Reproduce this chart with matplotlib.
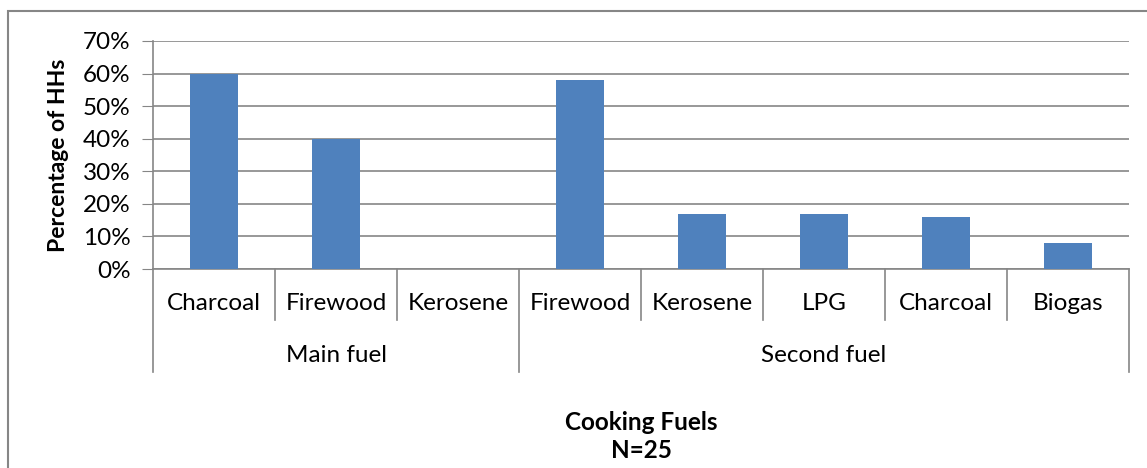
"""
Cooking fuels chart (Excel style, two-level category axis)
"""

import matplotlib
matplotlib.use('Agg')
import matplotlib.pyplot as plt
import matplotlib.transforms as mtransforms
from matplotlib.patches import Rectangle

plt.rcParams['font.family'] = ['Lato', 'DejaVu Sans']

# Data
groups = ['Main fuel', 'Second fuel']
group_sizes = [3, 5]
fuels = ['Charcoal', 'Firewood', 'Kerosene',
         'Firewood', 'Kerosene', 'LPG', 'Charcoal', 'Biogas']
shares = [0.60, 0.40, 0.0, 0.58, 0.17, 0.17, 0.16, 0.08]
y_ticks = [0, 0.1, 0.2, 0.3, 0.4, 0.5, 0.6, 0.7]

W, H = 1147, 468
bar_color = '#4F81BD'
line_color = '#868686'
fs = 17.5

fig = plt.figure(figsize=(W / 100, H / 100), dpi=100)
ax = fig.add_axes([153 / W, 1 - 269 / H, (1129 - 153) / W, (269 - 41) / H])

x = list(range(len(fuels)))
ax.bar(x, shares, width=0.4, color=bar_color, zorder=3)

ax.set_xlim(-0.5, len(fuels) - 0.5)
ax.set_ylim(0, 0.7)
ax.set_yticks(y_ticks)
ax.set_yticklabels([f'{int(round(v * 100))}%' for v in y_ticks], fontsize=fs)
ax.tick_params(axis='y', length=8, color=line_color, pad=8)
ax.set_xticks([])
ax.grid(True, axis='y', color=line_color, linewidth=1.2, zorder=0)

for side in ['top', 'right']:
    ax.spines[side].set_visible(False)
for side in ['left', 'bottom']:
    ax.spines[side].set_color(line_color)
    ax.spines[side].set_linewidth(1.2)

ax.set_ylabel('Percentage of HHs', fontsize=16.5, fontweight='bold', labelpad=10)

# Two-level category axis
trans = mtransforms.blended_transform_factory(ax.transData, ax.transAxes)
cat_low = -51 / 228
grp_low = -103 / 228

group_edges = [-0.5]
for n in group_sizes:
    group_edges.append(group_edges[-1] + n)

for i in range(len(fuels) + 1):
    xb = i - 0.5
    low = grp_low if xb in group_edges else cat_low
    ax.plot([xb, xb], [0, low], color=line_color, linewidth=1.2,
            transform=trans, clip_on=False)

for i, name in enumerate(fuels):
    ax.text(i, -35 / 228, name, transform=trans, ha='center', va='center',
            fontsize=fs)

for g, name in enumerate(groups):
    mid = (group_edges[g] + group_edges[g + 1]) / 2
    ax.text(mid, -86 / 228, name, transform=trans, ha='center', va='center',
            fontsize=fs)

# Axis title
fig.text((153 + 1129) / 2 / W, 1 - 422 / H, 'Cooking Fuels', ha='center',
         va='center', fontsize=fs, fontweight='bold')
fig.text((153 + 1129) / 2 / W, 1 - 451 / H, 'N=25', ha='center',
         va='center', fontsize=fs, fontweight='bold')

# Chart area border (cut off at right and bottom)
fig.patches.append(Rectangle((8 / W, -0.1), 1.2, 1 - 11 / H + 0.1,
                             transform=fig.transFigure, fill=False,
                             edgecolor=line_color, linewidth=1.5))

plt.savefig('out.png', dpi=100)
plt.close(fig)
